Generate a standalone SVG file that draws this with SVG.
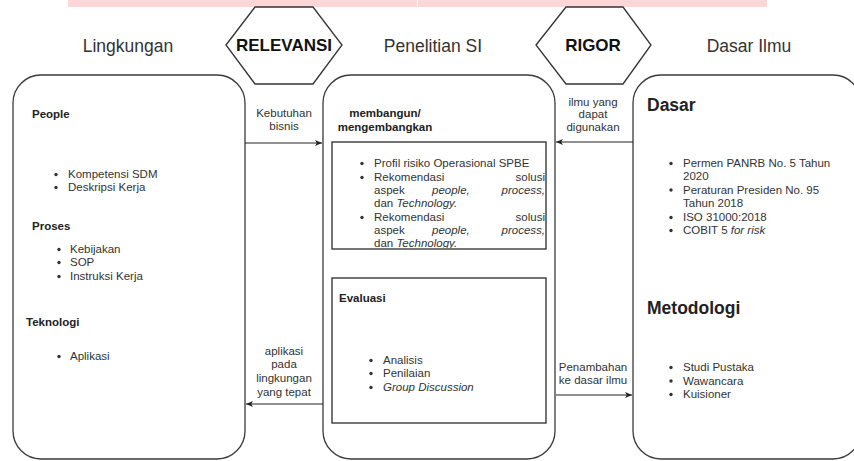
<svg xmlns="http://www.w3.org/2000/svg" width="854" height="461" viewBox="0 0 854 461">
<style>
text{font-family:"Liberation Sans",Arial,sans-serif;fill:#333;font-size:11.5px}
.title{font-size:17.5px}
.hexlbl{font-size:17px;font-weight:bold;fill:#111}
.b{font-weight:bold;fill:#222}
.big{font-size:17.5px;font-weight:bold;fill:#222}
.i{font-style:italic}
.c{text-anchor:middle}
.e{text-anchor:end}
.panel{fill:#fff;stroke:#3a3a3a;stroke-width:1.3}
.box{fill:#fff;stroke:#2a2a2a;stroke-width:1.3}
.hex{fill:#fff;stroke:#333;stroke-width:1.3}
.conn{stroke:#222;stroke-width:1.2;fill:none;marker-end:url(#arr)}
.dot{fill:#333}
</style>
<defs>
<marker id="arr" viewBox="0 0 10 10" refX="9" refY="5" markerWidth="8" markerHeight="8" orient="auto" markerUnits="userSpaceOnUse">
<path d="M0,1 L9,5 L0,9 L2.5,5 z" fill="#222"/>
</marker>
<clipPath id="clip1"><rect x="332" y="142" width="214" height="106"/></clipPath>
</defs>
<rect width="854" height="461" fill="#fff"/>
<g id="topbar">
<rect x="68" y="0" width="349" height="7" fill="#fdd7d7"/>
<rect x="418" y="0" width="349" height="7" fill="#fdd7d7"/>
</g>
<g id="titles">
<text class="title c" x="128" y="52">Lingkungan</text>
<text class="title c" x="433" y="52">Penelitian SI</text>
<text class="title c" x="749" y="52">Dasar Ilmu</text>
</g>
<g id="relevansi">
<polygon class="hex" points="226,45 255,7 313,7 342,45 313,84 255,84"/>
<text class="hexlbl c" x="284" y="51">RELEVANSI</text>
</g>
<g id="rigor">
<polygon class="hex" points="536,45 566,7 623,7 651,45 623,84 566,84"/>
<text class="hexlbl c" x="593" y="51">RIGOR</text>
</g>
<g id="lingkungan">
<rect class="panel" x="13" y="75" width="232" height="384" rx="28" ry="28"/>
<text class="b" x="32" y="118">People</text>
<circle class="dot" cx="56" cy="174.5" r="1.7"/><text x="68" y="178">Kompetensi SDM</text>
<circle class="dot" cx="56" cy="187.5" r="1.7"/><text x="68" y="191">Deskripsi Kerja</text>
<text class="b" x="32" y="230">Proses</text>
<circle class="dot" cx="59" cy="249.5" r="1.7"/><text x="70" y="253">Kebijakan</text>
<circle class="dot" cx="59" cy="262.5" r="1.7"/><text x="70" y="266">SOP</text>
<circle class="dot" cx="59" cy="276.5" r="1.7"/><text x="70" y="280">Instruksi Kerja</text>
<text class="b" x="26" y="326">Teknologi</text>
<circle class="dot" cx="59" cy="356.5" r="1.7"/><text x="70" y="360">Aplikasi</text>
</g>
<g id="penelitian">
<rect class="panel" x="323" y="75" width="232" height="384" rx="28" ry="28"/>
<text class="b c" x="385" y="117">membangun/</text>
<text class="b c" x="385" y="131">mengembangkan</text>
</g>
<g id="box-membangun">
<rect class="box" x="332" y="142" width="214" height="107"/>
<g clip-path="url(#clip1)">
<circle class="dot" cx="362" cy="163.5" r="1.7"/><text x="374" y="167">Profil risiko Operasional SPBE</text>
<circle class="dot" cx="362" cy="177.5" r="1.7"/><text x="374" y="181">Rekomendasi</text><text class="e" x="545" y="181">solusi</text>
<text x="374" y="194">aspek</text><text class="i" x="432" y="194">people,</text><text class="i e" x="545" y="194">process,</text>
<text x="374" y="207">dan <tspan class="i">Technology.</tspan></text>
<circle class="dot" cx="362" cy="217.5" r="1.7"/><text x="374" y="221">Rekomendasi</text><text class="e" x="545" y="221">solusi</text>
<text x="374" y="234">aspek</text><text class="i" x="432" y="234">people,</text><text class="i e" x="545" y="234">process,</text>
<text x="374" y="247">dan <tspan class="i">Technology.</tspan></text>
</g>
</g>
<g id="box-evaluasi">
<rect class="box" x="332" y="278" width="214" height="145"/>
<text class="b" x="339" y="302">Evaluasi</text>
<circle class="dot" cx="371" cy="360.5" r="1.7"/><text x="383" y="364">Analisis</text>
<circle class="dot" cx="371" cy="373.5" r="1.7"/><text x="383" y="377">Penilaian</text>
<circle class="dot" cx="371" cy="387.5" r="1.7"/><text class="i" x="383" y="391">Group Discussion</text>
</g>
<g id="dasar-ilmu">
<rect class="panel" x="633" y="75" width="228" height="384" rx="28" ry="28"/>
<text class="big" x="647" y="111">Dasar</text>
<circle class="dot" cx="671" cy="163.5" r="1.7"/><text x="683" y="167">Permen PANRB No. 5 Tahun</text>
<text x="683" y="180">2020</text>
<circle class="dot" cx="671" cy="190" r="1.7"/><text x="683" y="193.5">Peraturan Presiden No. 95</text>
<text x="683" y="207">Tahun 2018</text>
<circle class="dot" cx="671" cy="217.5" r="1.7"/><text x="683" y="221">ISO 31000:2018</text>
<circle class="dot" cx="671" cy="230.5" r="1.7"/><text x="683" y="234">COBIT 5 <tspan class="i">for risk</tspan></text>
<text class="big" x="647" y="314">Metodologi</text>
<circle class="dot" cx="671" cy="367.5" r="1.7"/><text x="683" y="371">Studi Pustaka</text>
<circle class="dot" cx="671" cy="381" r="1.7"/><text x="683" y="384.5">Wawancara</text>
<circle class="dot" cx="671" cy="394.5" r="1.7"/><text x="683" y="398">Kuisioner</text>
</g>
<g id="connectors">
<path class="conn" d="M245,143 H322"/>
<path class="conn" d="M633,142 H556"/>
<path class="conn" d="M323,404 H246"/>
<path class="conn" d="M556,395 H632"/>
<text class="c" x="284" y="117">Kebutuhan</text>
<text class="c" x="284" y="130">bisnis</text>
<text class="c" x="593" y="106">ilmu yang</text>
<text class="c" x="593" y="118">dapat</text>
<text class="c" x="593" y="131">digunakan</text>
<text class="c" x="284" y="355">aplikasi</text>
<text class="c" x="284" y="368">pada</text>
<text class="c" x="284" y="382">lingkungan</text>
<text class="c" x="284" y="396">yang tepat</text>
<text class="c" x="593" y="371">Penambahan</text>
<text class="c" x="593" y="384">ke dasar ilmu</text>
</g>
</svg>
